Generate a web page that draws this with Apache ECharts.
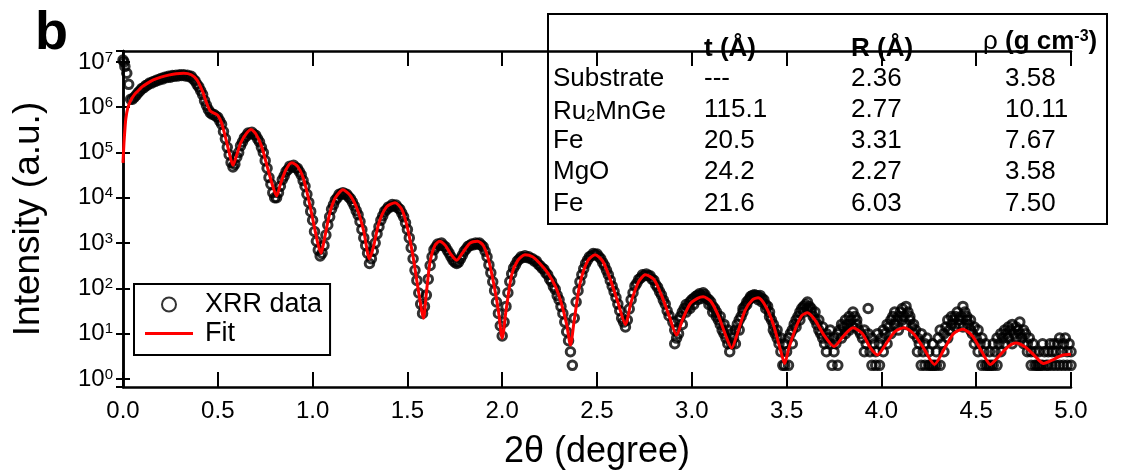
<!DOCTYPE html>
<html lang="en">
<head>
<meta charset="UTF-8">
<title>XRR</title>
<script src="https://cdn.jsdelivr.net/npm/echarts@6/dist/echarts.min.js"></script>
<style>
  html, body { margin: 0; padding: 0; background: #fff; }
  #main { width: 1132px; height: 475px; }
</style>
</head>
<body>
<div id="main"></div>
<script>
var FONT = '"Liberation Sans", Arial, Helvetica, sans-serif';

// fitted curve: [2theta (deg), intensity]
var fitCurve = [
  [0, 5.9e4], [0.005, 1.6e5], [0.01, 3.2e5], [0.015, 5.6e5], [0.025, 9.5e5], [0.04, 1.4e6], [0.06, 1.9e6],
  [0.08, 2.3e6], [0.10, 2.8e6], [0.13, 3.4e6], [0.16, 4.0e6], [0.20, 4.6e6], [0.24, 5.1e6], [0.28, 5.5e6],
  [0.32, 5.6e6], [0.36, 5.2e6], [0.39, 4.0e6], [0.42, 2.2e6], [0.44, 1.26e6], [0.46, 8.3e5], [0.48, 7.4e5],
  [0.50, 6.6e5], [0.52, 4.5e5], [0.54, 2.2e5], [0.56, 1.0e5], [0.58, 5.2e4], [0.60, 8.9e4], [0.62, 1.6e5],
  [0.65, 2.6e5], [0.675, 3.2e5], [0.70, 2.6e5], [0.73, 1.4e5], [0.76, 5.0e4], [0.79, 1.8e4], [0.81, 1.1e4],
  [0.83, 2.0e4], [0.86, 4.2e4], [0.89, 5.9e4], [0.92, 5.0e4], [0.95, 2.8e4], [0.98, 8.9e3], [1.01, 2.2e3],
  [1.03, 890], [1.045, 600], [1.06, 1.1e3], [1.09, 4.5e3], [1.12, 1.0e4], [1.16, 1.5e4], [1.20, 1.1e4],
  [1.24, 5.0e3], [1.27, 1.8e3], [1.30, 450], [1.32, 790], [1.35, 2.8e3], [1.39, 6.3e3], [1.435, 7.8e3],
  [1.47, 5.6e3], [1.50, 2.2e3], [1.53, 500], [1.56, 79], [1.585, 22], [1.60, 79], [1.62, 400], [1.645, 890],
  [1.67, 1.1e3], [1.70, 890], [1.73, 560], [1.76, 420], [1.79, 600], [1.83, 1.0e3], [1.87, 1.1e3], [1.90, 890],
  [1.93, 400], [1.96, 100], [1.98, 32], [2.00, 7.9], [2.02, 32], [2.05, 200], [2.08, 400], [2.12, 550],
  [2.16, 500], [2.20, 350], [2.24, 220], [2.28, 112], [2.31, 50], [2.34, 16], [2.36, 5.6], [2.38, 20],
  [2.41, 126], [2.45, 400], [2.49, 550], [2.53, 400], [2.57, 158], [2.61, 50], [2.65, 16], [2.68, 50],
  [2.72, 141], [2.755, 200], [2.80, 158], [2.84, 71], [2.88, 25], [2.92, 9.3], [2.95, 20], [2.99, 45],
  [3.03, 60], [3.06, 65], [3.10, 52], [3.14, 25], [3.18, 8.9], [3.21, 4.8], [3.24, 10], [3.28, 32],
  [3.32, 56], [3.35, 62], [3.39, 40], [3.43, 16], [3.47, 4.0], [3.49, 2.2], [3.51, 4.5], [3.55, 14],
  [3.58, 25], [3.61, 29], [3.65, 20], [3.70, 8.9], [3.75, 5.2], [3.80, 8.9], [3.85, 13.5], [3.90, 10],
  [3.94, 5.0], [3.98, 3.4], [4.02, 5.6], [4.07, 11], [4.12, 13.5], [4.17, 10], [4.22, 5.0], [4.28, 2.1],
  [4.33, 4.5], [4.38, 10], [4.43, 12.6], [4.48, 8.9], [4.53, 4.0], [4.575, 2.1], [4.62, 3.2], [4.67, 5.2],
  [4.71, 6.2], [4.76, 5.0], [4.81, 3.2], [4.855, 2.2], [4.90, 2.6], [4.95, 3.3], [5.00, 3.5]
];

// measured XRR points, low angles
var xrrLow = [
  [0, 1.1e7], [0.005, 1.0e7], [0.01, 7.9e6], [0.02, 5.6e6], [0.03, 3.2e6], [0.04, 1.5e6], [0.06, 1.66e6],
  [0.08, 2.1e6], [0.10, 2.6e6], [0.12, 3.0e6], [0.14, 3.4e6], [0.16, 3.7e6], [0.18, 4.0e6], [0.20, 4.3e6],
  [0.22, 4.6e6], [0.24, 4.8e6], [0.26, 5.0e6], [0.28, 5.1e6], [0.30, 5.2e6], [0.32, 5.2e6], [0.34, 5.1e6],
  [0.36, 4.8e6], [0.38, 3.8e6], [0.40, 2.8e6], [0.42, 1.9e6], [0.44, 1.1e6], [0.46, 7.6e5], [0.48, 6.9e5],
  [0.50, 6.0e5], [0.52, 4.2e5], [0.54, 2.0e5], [0.56, 8.9e4], [0.58, 4.8e4], [0.60, 7.9e4], [0.62, 1.4e5],
  [0.64, 2.1e5], [0.66, 2.7e5], [0.68, 2.8e5], [0.70, 2.4e5], [0.72, 1.7e5], [0.74, 1.0e5], [0.76, 4.5e4],
  [0.78, 2.0e4], [0.80, 1.0e4], [0.82, 1.3e4], [0.84, 2.5e4], [0.86, 3.8e4], [0.88, 5.0e4], [0.90, 5.2e4],
  [0.92, 4.5e4], [0.94, 3.2e4], [0.96, 1.8e4], [0.98, 7.9e3], [0.99, 5.0e3], [1.00, 3.2e3], [1.01, 1.8e3],
  [1.02, 1.1e3], [1.03, 700], [1.04, 520], [1.05, 600], [1.06, 890], [1.07, 1.5e3], [1.08, 2.5e3],
  [1.10, 5.6e3], [1.12, 8.9e3], [1.14, 1.2e4], [1.16, 1.3e4], [1.18, 1.2e4], [1.20, 9.5e3], [1.22, 6.6e3],
  [1.24, 4.2e3], [1.26, 2.0e3], [1.28, 890], [1.29, 600], [1.30, 355], [1.31, 450], [1.32, 660], [1.33, 1.0e3],
  [1.34, 1.6e3], [1.36, 3.2e3], [1.38, 5.0e3], [1.40, 6.3e3], [1.42, 7.1e3], [1.44, 6.9e3], [1.46, 5.6e3],
  [1.48, 3.8e3], [1.50, 2.0e3], [1.51, 1.3e3], [1.52, 790], [1.53, 450], [1.54, 250], [1.55, 150], [1.56, 79],
  [1.57, 45], [1.58, 28], [1.59, 40], [1.60, 71], [1.61, 160], [1.62, 320], [1.63, 500], [1.64, 710],
  [1.66, 950], [1.68, 1.0e3], [1.70, 830], [1.72, 600], [1.74, 420], [1.76, 355], [1.78, 450], [1.80, 660],
  [1.82, 850], [1.84, 950], [1.86, 1.0e3], [1.88, 1.0e3], [1.90, 830], [1.92, 500], [1.93, 330], [1.94, 220],
  [1.95, 140], [1.96, 89], [1.97, 50], [1.98, 28], [1.99, 15], [2.00, 8.9], [2.01, 18], [2.02, 40], [2.03, 80],
  [2.04, 141], [2.06, 280], [2.08, 400], [2.10, 500], [2.12, 525], [2.14, 500], [2.16, 450], [2.18, 400],
  [2.20, 316], [2.22, 263], [2.24, 200], [2.26, 141], [2.28, 95], [2.30, 56], [2.31, 40], [2.32, 28],
  [2.33, 18], [2.34, 11], [2.35, 7], [2.36, 4], [2.37, 2], [2.38, 22], [2.39, 50], [2.40, 89], [2.41, 140],
  [2.42, 200], [2.44, 355], [2.46, 500], [2.48, 590], [2.50, 575], [2.52, 450], [2.54, 316], [2.56, 200],
  [2.58, 112], [2.60, 63], [2.61, 45], [2.62, 32], [2.63, 22], [2.64, 18], [2.65, 14], [2.66, 20], [2.67, 35],
  [2.68, 56], [2.70, 112], [2.72, 158], [2.74, 200], [2.76, 209], [2.78, 190], [2.80, 151], [2.82, 105],
  [2.84, 71], [2.86, 45], [2.88, 25]
];

// extra low-angle points lying on the lower side of the band
var xrrLowMid = [
  [0.05, 1.5e6], [0.07, 1.85e6], [0.09, 2.3e6], [0.11, 2.7e6], [0.13, 3.1e6], [0.15, 3.4e6], [0.17, 3.7e6],
  [0.19, 4.0e6], [0.21, 4.2e6], [0.23, 4.5e6], [0.25, 4.6e6], [0.27, 4.8e6], [0.29, 4.9e6], [0.31, 5.0e6],
  [0.33, 4.9e6], [0.35, 4.7e6], [0.37, 4.2e6], [0.39, 3.2e6], [0.41, 2.3e6], [0.43, 1.4e6], [0.45, 8.9e5],
  [0.47, 7.0e5], [0.49, 6.3e5], [0.51, 5.0e5], [0.53, 2.9e5], [0.55, 1.3e5], [0.57, 6.0e4], [0.59, 5.5e4],
  [0.61, 1.0e5], [0.63, 1.7e5], [0.65, 2.3e5], [0.67, 2.6e5], [0.69, 2.5e5], [0.71, 2.0e5], [0.73, 1.3e5],
  [0.75, 6.6e4], [0.77, 2.8e4], [0.79, 1.3e4], [0.81, 1.0e4], [0.83, 1.8e4], [0.85, 3.0e4], [0.87, 4.2e4],
  [0.89, 4.8e4], [0.91, 4.6e4], [0.93, 3.8e4], [0.95, 2.4e4], [0.97, 1.2e4],
  [1.09, 3.8e3], [1.11, 7.0e3], [1.13, 1.0e4], [1.15, 1.2e4], [1.17, 1.2e4], [1.19, 1.05e4], [1.21, 8.0e3],
  [1.23, 5.2e3], [1.25, 3.0e3], [1.27, 1.3e3], [1.35, 2.3e3], [1.37, 4.0e3], [1.39, 5.5e3], [1.41, 6.3e3],
  [1.43, 6.6e3], [1.45, 6.0e3], [1.47, 4.6e3], [1.49, 2.8e3],
  [1.65, 820], [1.67, 900], [1.69, 880], [1.71, 700], [1.73, 500], [1.75, 380], [1.77, 380], [1.79, 540],
  [1.81, 740], [1.83, 880], [1.85, 920], [1.87, 950], [1.89, 900], [1.91, 660],
  [2.05, 210], [2.07, 330], [2.09, 440], [2.11, 480], [2.13, 480], [2.15, 450], [2.17, 400], [2.19, 340],
  [2.21, 280], [2.23, 220], [2.25, 160], [2.27, 110], [2.29, 70],
  [2.43, 270], [2.45, 420], [2.47, 520], [2.49, 560], [2.51, 500], [2.53, 370], [2.55, 250], [2.57, 150],
  [2.59, 85], [2.69, 80], [2.71, 130], [2.73, 170], [2.75, 190], [2.77, 190], [2.79, 160], [2.81, 120],
  [2.83, 85], [2.85, 55], [2.87, 32]
];

// measured XRR points, high angles (counting noise)
var xrrHigh = [
  [2.90, 18], [2.91, 12], [2.91, 6], [2.92, 8], [2.93, 10], [2.93, 20], [2.94, 24], [2.95, 30], [2.95, 16],
  [2.96, 36], [2.97, 30], [2.97, 44], [2.98, 40], [2.99, 50], [2.99, 36], [3.00, 56], [3.01, 60], [3.01, 44],
  [3.02, 66], [3.03, 70], [3.03, 56], [3.04, 76], [3.05, 70], [3.05, 60], [3.06, 80], [3.07, 64], [3.07, 72],
  [3.08, 60], [3.09, 56], [3.09, 44], [3.10, 50], [3.11, 40], [3.11, 30], [3.12, 36], [3.13, 24], [3.13, 30],
  [3.14, 20], [3.15, 16], [3.15, 24], [3.16, 12], [3.17, 10], [3.17, 16], [3.18, 8], [3.19, 6], [3.19, 12],
  [3.20, 4], [3.21, 6], [3.21, 10], [3.22, 8], [3.23, 12], [3.23, 6], [3.24, 16], [3.25, 20], [3.25, 12],
  [3.26, 24], [3.27, 30], [3.27, 36], [3.28, 40], [3.29, 44], [3.29, 50], [3.30, 56], [3.31, 60], [3.31, 66],
  [3.32, 70], [3.33, 64], [3.33, 72], [3.34, 70], [3.35, 66], [3.35, 56], [3.36, 70], [3.37, 60], [3.37, 50],
  [3.38, 56], [3.39, 44], [3.39, 36], [3.40, 40], [3.41, 30], [3.41, 24], [3.42, 20], [3.43, 16], [3.43, 12],
  [3.44, 10], [3.45, 8], [3.45, 12], [3.46, 6], [3.47, 4], [3.47, 8], [3.48, 2], [3.49, 2], [3.49, 6],
  [3.50, 4], [3.51, 2], [3.51, 8], [3.52, 10], [3.53, 12], [3.53, 6], [3.54, 16], [3.55, 20], [3.55, 14],
  [3.56, 24], [3.57, 30], [3.57, 20], [3.58, 36], [3.59, 30], [3.59, 40], [3.60, 44], [3.61, 36], [3.61, 50],
  [3.62, 40], [3.63, 30], [3.63, 36], [3.64, 24], [3.65, 30], [3.65, 20], [3.66, 16], [3.67, 20], [3.67, 12],
  [3.68, 10], [3.69, 14], [3.69, 8], [3.70, 6], [3.71, 10], [3.71, 4], [3.72, 8], [3.73, 6], [3.73, 12],
  [3.74, 2], [3.75, 4], [3.75, 8], [3.76, 6], [3.77, 2], [3.77, 10], [3.78, 12], [3.79, 8], [3.79, 16],
  [3.80, 14], [3.81, 20], [3.81, 10], [3.82, 16], [3.83, 24], [3.83, 12], [3.84, 20], [3.85, 30], [3.85, 14],
  [3.86, 24], [3.87, 16], [3.87, 20], [3.88, 12], [3.89, 10], [3.90, 8], [3.91, 12], [3.91, 4], [3.92, 6],
  [3.93, 36], [3.93, 10], [3.94, 4], [3.95, 2], [3.95, 8], [3.96, 6], [3.97, 2], [3.97, 4], [3.98, 10],
  [3.99, 6], [3.99, 2], [4.00, 8], [4.01, 12], [4.01, 4], [4.02, 10], [4.03, 16], [4.03, 6], [4.04, 14],
  [4.05, 20], [4.05, 10], [4.06, 24], [4.07, 16], [4.07, 30], [4.08, 20], [4.09, 24], [4.09, 12], [4.10, 30],
  [4.11, 36], [4.11, 20], [4.12, 24], [4.13, 16], [4.13, 40], [4.14, 30], [4.15, 20], [4.15, 24], [4.16, 14],
  [4.17, 10], [4.17, 16], [4.18, 12], [4.19, 8], [4.19, 4], [4.20, 6], [4.21, 10], [4.21, 2], [4.22, 4],
  [4.23, 2], [4.23, 6], [4.24, 8], [4.25, 2], [4.25, 4], [4.26, 2], [4.27, 6], [4.27, 2], [4.28, 2],
  [4.29, 4], [4.29, 2], [4.30, 8], [4.31, 2], [4.31, 12], [4.32, 6], [4.33, 10], [4.33, 4], [4.34, 14],
  [4.35, 8], [4.35, 20], [4.36, 12], [4.37, 16], [4.37, 24], [4.38, 20], [4.39, 14], [4.39, 24], [4.40, 30],
  [4.41, 20], [4.41, 16], [4.42, 24], [4.43, 40], [4.43, 14], [4.44, 30], [4.45, 20], [4.45, 24], [4.46, 16],
  [4.47, 12], [4.47, 20], [4.48, 10], [4.49, 14], [4.49, 6], [4.50, 8], [4.51, 4], [4.51, 12], [4.52, 6],
  [4.53, 2], [4.53, 8], [4.54, 4], [4.55, 2], [4.55, 6], [4.56, 2], [4.57, 4], [4.57, 2], [4.58, 2],
  [4.59, 6], [4.59, 2], [4.60, 4], [4.61, 2], [4.61, 8], [4.62, 6], [4.63, 10], [4.63, 4], [4.64, 8],
  [4.65, 12], [4.65, 6], [4.66, 10], [4.67, 14], [4.67, 8], [4.68, 12], [4.69, 16], [4.69, 6], [4.70, 10],
  [4.71, 14], [4.71, 8], [4.72, 12], [4.73, 18], [4.73, 10], [4.74, 8], [4.75, 12], [4.75, 6], [4.76, 10],
  [4.77, 6], [4.77, 4], [4.78, 8], [4.79, 4], [4.79, 2], [4.80, 6], [4.81, 2], [4.81, 4], [4.82, 2],
  [4.83, 4], [4.83, 2], [4.84, 2], [4.85, 6], [4.85, 2], [4.86, 4], [4.87, 2], [4.88, 2], [4.88, 4],
  [4.89, 6], [4.90, 2], [4.90, 4], [4.91, 6], [4.92, 4], [4.92, 2], [4.93, 6], [4.94, 8], [4.94, 2],
  [4.95, 4], [4.96, 6], [4.96, 2], [4.97, 8], [4.98, 2], [4.98, 4], [4.99, 6], [5.00, 4], [5.00, 2]
];

// fit parameters table
var layerNames = ['Substrate', '{n|Ru}{sub|2}{n|MnGe}', 'Fe', 'MgO', 'Fe'];
var thickness = ['---', '115.1', '20.5', '24.2', '21.6'];
var roughness = ['2.36', '2.77', '3.31', '2.27', '6.03'];
var density = ['3.58', '10.11', '7.67', '3.58', '7.50'];

var myChart = echarts.init(document.getElementById('main'));

// table graphics
var TS = 26;
var tableFont = TS + 'px ' + FONT;
var rowY = [79, 110, 141, 172, 204];
var colX = [553, 704, 851, 1005];
var txtRich = {
    n: { fontSize: TS, fontFamily: FONT, lineHeight: TS, verticalAlign: 'top', padding: [0, 0, 5, 0] },
    sub: { fontSize: 16, fontFamily: FONT, lineHeight: 16, verticalAlign: 'bottom' }
};
var tableItems = [{
    type: 'rect',
    shape: { x: 548, y: 14, width: 559, height: 210 },
    style: { fill: '#fff', stroke: '#000', lineWidth: 2 }
}, {
    type: 'text', style: { x: 704, y: 49, text: 't (Å)', font: 'bold ' + TS + 'px ' + FONT, fill: '#000', verticalAlign: 'middle' }
}, {
    type: 'text', style: { x: 851, y: 49, text: 'R (Å)', font: 'bold ' + TS + 'px ' + FONT, fill: '#000', verticalAlign: 'middle' }
}, {
    type: 'text',
    style: {
        x: 983, y: 42, verticalAlign: 'middle',
        text: '{r|ρ }{h|(g cm}{s|-3}{h|)}',
        rich: {
            r: { fontSize: TS, fontFamily: FONT, lineHeight: TS, verticalAlign: 'bottom', padding: [16, 0, 0, 0] },
            h: { fontSize: TS, fontFamily: FONT, fontWeight: 'bold', lineHeight: TS, verticalAlign: 'bottom', padding: [16, 0, 0, 0] },
            s: { fontSize: 16, fontFamily: FONT, fontWeight: 'bold', lineHeight: 16, verticalAlign: 'top' }
        }
    }
}];
layerNames.forEach(function (name, i) {
    var cells = [name, thickness[i], roughness[i], density[i]];
    cells.forEach(function (c, j) {
        tableItems.push({
            type: 'text',
            style: {
                x: colX[j], y: rowY[i] + (j === 0 && i === 1 ? 2 : 0), text: c, font: tableFont, fill: '#000',
                verticalAlign: 'middle', rich: j === 0 ? txtRich : undefined
            }
        });
    });
});
tableItems.push({
    type: 'text', style: { x: 35, y: 7, text: 'b', font: 'bold 54px ' + FONT, fill: '#000' }
});

function logLabel(v) {
    var n = Math.round(Math.log10(v));
    return '{b|10}{s|' + n + '}';
}

var yCommon = {
    type: 'log',
    logBase: 10,
    min: 0.665,
    max: 1.74e7,
    axisLine: { show: true, lineStyle: { color: '#000', width: 2.5 } },
    axisTick: { show: true, inside: true, length: 7, lineStyle: { color: '#000', width: 2 } },
    minorTick: { show: false },
    splitLine: { show: false }
};
var xCommon = {
    type: 'value',
    min: 0,
    max: 5,
    interval: 0.5,
    axisLine: { show: true, onZero: false, lineStyle: { color: '#000', width: 2.5 } },
    axisTick: { show: true, inside: true, length: 15, lineStyle: { color: '#000', width: 2 } },
    splitLine: { show: false }
};

var option = {
    animation: false,
    backgroundColor: '#fff',
    grid: { left: 123, right: 61, top: 51, bottom: 88 },
    legend: {
        orient: 'vertical',
        left: 134,
        top: 284,
        padding: [7, 8, 8, 11],
        itemGap: 2,
        itemWidth: 48,
        itemHeight: 14,
        symbolKeepAspect: true,
        backgroundColor: '#fff',
        borderColor: '#000',
        borderWidth: 2,
        borderRadius: 0,
        textStyle: { fontSize: 27, fontFamily: FONT, color: '#000', padding: [0, 0, 0, 7] },
        data: [
            { name: 'XRR data' },
            { name: 'Fit', icon: 'path://M0,0H48V3H0Z', itemStyle: { color: '#ff0000' } }
        ]
    },
    xAxis: [
        Object.assign({}, xCommon, {
            position: 'bottom',
            axisLabel: {
                fontSize: 24, fontFamily: FONT, color: '#000', margin: 12,
                formatter: function (v) { return v.toFixed(1); }
            },
            name: '2θ (degree)',
            nameLocation: 'middle',
            nameGap: 47,
            nameTextStyle: { fontSize: 36, fontFamily: FONT, color: '#000' }
        }),
        Object.assign({}, xCommon, { position: 'top', axisLabel: { show: false } })
    ],
    yAxis: [
        Object.assign({}, yCommon, {
            position: 'left',
            axisLabel: {
                show: true, margin: 10, showMinLabel: false, showMaxLabel: false,
                formatter: logLabel,
                rich: {
                    b: { fontSize: 24, fontFamily: FONT, color: '#000', lineHeight: 24, verticalAlign: 'bottom', padding: [9, 0, 0, 0] },
                    s: { fontSize: 15, fontFamily: FONT, color: '#000', lineHeight: 15, verticalAlign: 'top' }
                }
            },
            name: 'Intensity (a.u.)',
            nameLocation: 'middle',
            nameGap: 76,
            nameTextStyle: { fontSize: 37, fontFamily: FONT, color: '#000' }
        }),
        Object.assign({}, yCommon, { position: 'right', axisLabel: { show: false } })
    ],
    series: [{
        name: 'XRR data',
        type: 'scatter',
        symbol: 'circle',
        symbolSize: 8.5,
        itemStyle: { color: 'rgba(0,0,0,0)', borderColor: '#000', borderWidth: 3 },
        data: xrrLow.concat(xrrLowMid, xrrHigh),
        z: 2
    }, {
        name: 'Fit',
        type: 'line',
        symbol: 'none',
        showSymbol: false,
        smooth: 0.25,
        lineStyle: { color: '#ff0000', width: 3 },
        itemStyle: { color: '#ff0000' },
        data: fitCurve,
        z: 3
    }],
    graphic: tableItems
};

myChart.setOption(option);
</script>
</body>
</html>
